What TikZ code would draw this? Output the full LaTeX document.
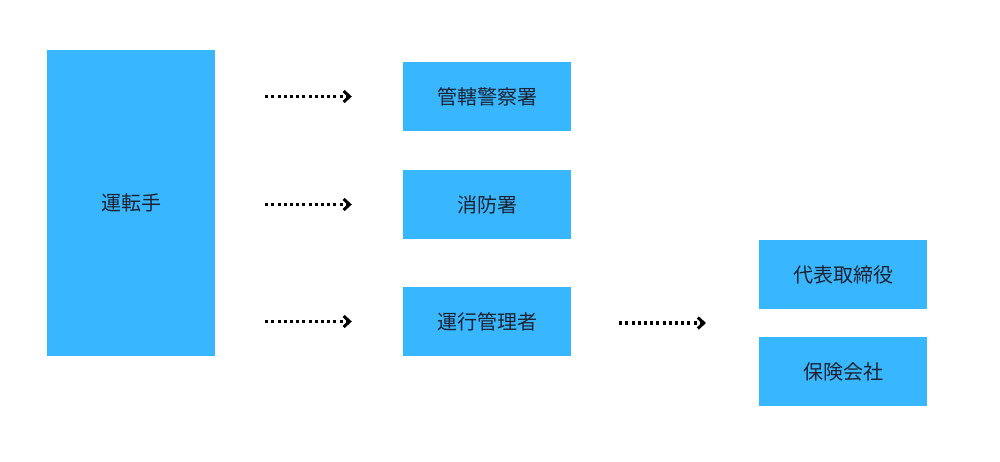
\documentclass[tikz,border=0pt]{standalone}
\usepackage{fontspec}
\setmainfont{Noto Sans CJK JP}
\usetikzlibrary{arrows.meta}

\definecolor{boxblue}{HTML}{38B6FF}
\definecolor{txt}{HTML}{1C2230}

\begin{document}
\begin{tikzpicture}[x=1pt, y=-1pt,
  blk/.style={fill=boxblue, draw=none, minimum width=168pt, minimum height=69pt, inner sep=0pt, text=txt, font=\fontsize{20}{20}\selectfont},
  dotarr/.style={line width=3.2pt, dash pattern=on 3pt off 3.2pt, -{Straight Barb[length=6pt, width=11pt, line width=3pt]}}]

\useasboundingbox (0,0) rectangle (1000,462);

\node[blk, minimum height=306pt] (untensha) at (131,203) {運転手};
\node[blk] (keisatsu) at (487,96.5) {管轄警察署};
\node[blk] (shobo) at (487,204.5) {消防署};
\node[blk] (kanri) at (487,321.5) {運行管理者};
\node[blk] (daihyo) at (843,274.5) {代表取締役};
\node[blk] (hoken) at (843,371.5) {保険会社};
\coordinate (migi) at (759,323);

\foreach \t in {keisatsu, shobo, kanri}{
\draw[dotarr, shorten <=50pt, shorten >=51pt] (untensha.east |- \t.west) -- (\t.west);
}
\draw[dotarr, shorten <=48pt, shorten >=53pt] (kanri.east |- migi) -- (migi);
\end{tikzpicture}
\end{document}
